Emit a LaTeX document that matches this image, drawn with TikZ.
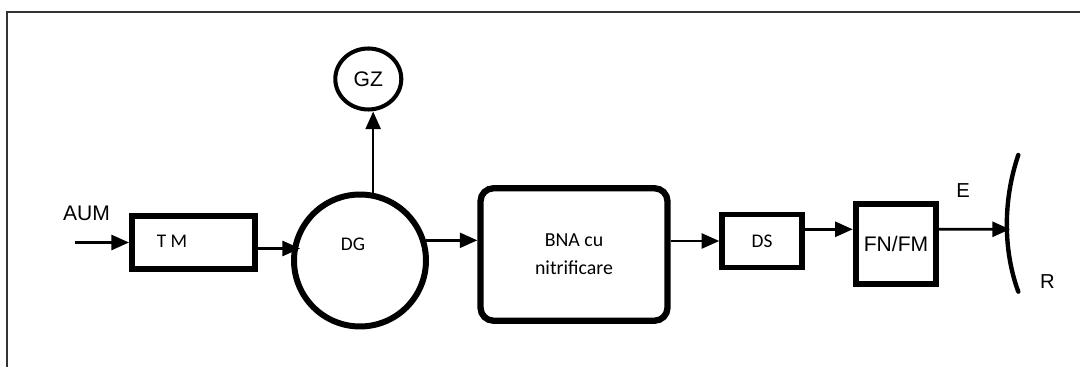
\documentclass[tikz,border=0pt]{standalone}
\usepackage{fontspec}
\newfontfamily\arialf{Liberation Sans}
\newfontfamily\calif{Carlito}
\usetikzlibrary{arrows.meta,positioning,calc,shapes.geometric}

\begin{document}
\begin{tikzpicture}[
    x=0.02cm, y=-0.02cm,
    big/.style={font=\arialf\fontsize{12}{14}\selectfont},
    mid/.style={font=\arialf\fontsize{11.5}{13}\selectfont},
    small/.style={font=\calif\fontsize{11}{16}\selectfont},
    block/.style={draw, line width=3.4pt, inner sep=0pt},
    arr/.style={-{Triangle[length=10pt,width=8.5pt]}, line width=1.5pt}
  ]
    \useasboundingbox (0,0) rectangle (1080,367);
    % frame of the page
    \draw[black!80, line width=0.9pt] (7,367) -- (7,12) -- (1080,12);

    \node[block, minimum width=2.46cm, minimum height=1.06cm] (tm) at (193.5,242.5) {};
    \node[small] at ([shift={(-21.5,-1.5)}]tm.center) {T M};
    \node[block, circle, minimum size=2.64cm] (dg) at (360,260.5) {};
    \node[small] at ([shift={(-7,-16.5)}]dg.center) {DG};
    \node[big, ellipse, draw, line width=2.3pt, minimum width=1.32cm, minimum height=1.22cm, inner sep=0pt] (gz) at (368.3,79) {GZ};
    \node[block, line width=3.6pt, rounded corners=0.26cm, minimum width=3.74cm, minimum height=2.65cm, align=center, font=\calif\fontsize{11.3}{15.7}\selectfont] (bna) at (574,254.5) {BNA cu\\nitrificare};
    \node[block, small, minimum width=1.59cm, minimum height=1.06cm] (ds) at (762,241) {DS};
    \node[block, big, minimum width=1.61cm, minimum height=1.59cm] (fn) at (896,243.8) {FN/FM};

    % input and receiving water
    \coordinate (aum) at (75,242.5);
    \node[big] at (86.5,213.5) {AUM};
    \draw[line width=2.5pt, line cap=round] (1018.3,155) .. controls (1003,200) and (1003,250) .. (1018.3,291.7);
    \coordinate (rtip) at (1010,229.3);
    \node[mid] at (963,191) {E};
    \node[mid] at (1047.5,282) {R};

    \draw[arr] (aum) -- (tm.west);
    \draw[arr] ($(tm.east)+(0,6)$) -- ($(tm.east -| dg.west)+(9,6)$);
    \draw[arr] (dg.79) -- (dg.79 |- gz.south);
    \draw[arr] (dg.17) -- (dg.17 -| bna.west);
    \draw[arr] (ds.west -| bna.east) -- (ds.west);
    \draw[arr] ([yshift=0.234cm]ds.east) -- ([yshift=0.234cm]ds.east -| fn.west);
    \draw[arr] ([yshift=0.29cm]fn.east) -- (rtip);
  \end{tikzpicture}
\end{document}
